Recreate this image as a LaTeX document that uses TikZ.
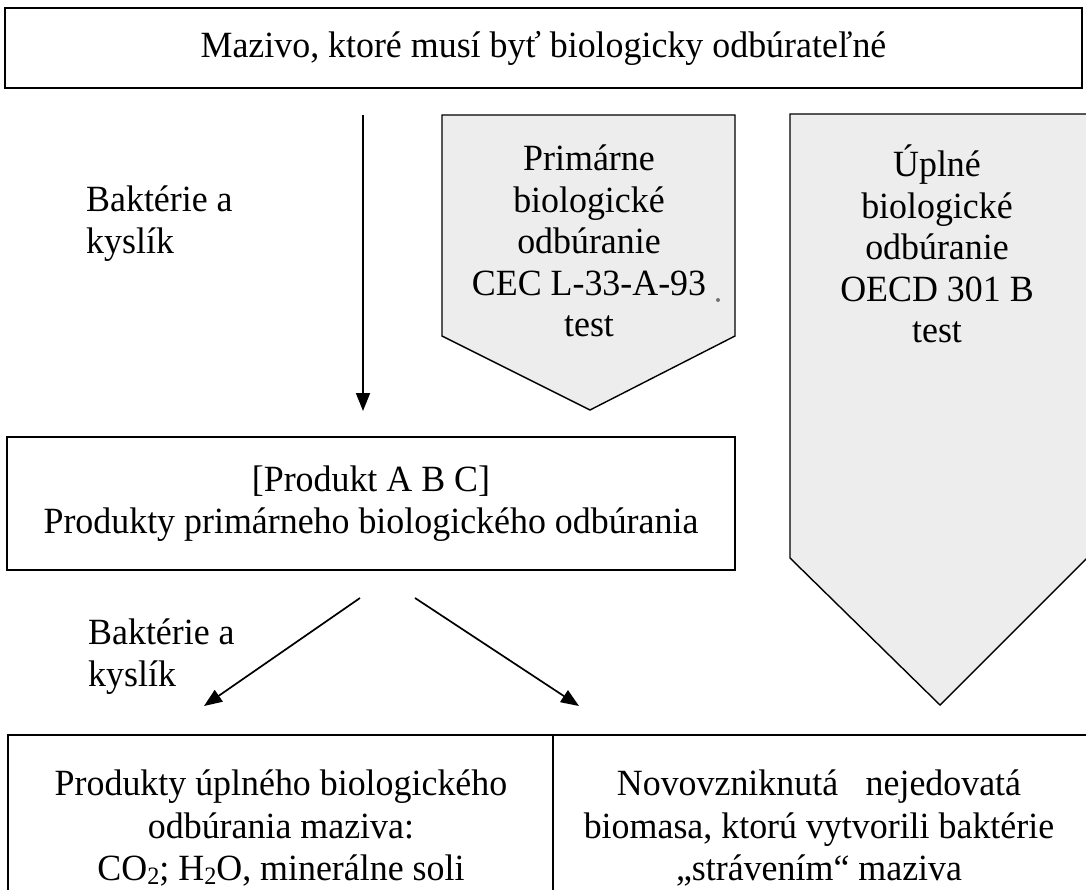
\documentclass[tikz,border=0pt]{standalone}
\usepackage{fontspec}
\setmainfont{Liberation Serif}[FakeStretch=0.97]
\usetikzlibrary{arrows.meta}
\newcommand{\lowtwo}{\raisebox{-0.12em}{\fontsize{25}{25}\selectfont 2}}
\begin{document}
\begin{tikzpicture}[x=1pt,y=-1pt,
  txt/.style={font=\fontsize{37}{41.5}\selectfont, align=center, inner sep=0pt},
  boxline/.style={draw=black, line width=1.8pt},
  penta/.style={draw=black, line width=1.4pt, fill=black!7},
  arr/.style={line width=1.7pt, -{Triangle[length=18pt,width=14pt]}}]
\useasboundingbox (0,0) rectangle (1086,890);
% top box
\node[txt, boxline, minimum width=1077pt, minimum height=80pt] (top) at (543.5,48) {Mazivo, ktoré musí byť biologicky odbúrateľné};
% pentagons
\draw[penta] (442,115) -- (735,115) -- (735,336) -- (590,410) -- (442,336) -- cycle;
\node[txt, anchor=north] (prim) at (589,145) {Primárne\\biologické\\odbúranie\\CEC L-33-A-93\\test};
\fill[black!55] (718,300) circle (2pt);
\draw[penta] (790,114) -- (1087,114) -- (1087,558) -- (940,705) -- (790,558) -- cycle;
\node[txt, anchor=north] (upl) at (937,145) {Úplné\\biologické\\odbúranie\\OECD 301 B\\test};
% left label 1
\node[txt, align=left, anchor=north west] (lab1) at (86,186) {Baktérie a\\kyslík};
% vertical arrow
\coordinate (a1s) at (363,115);
\coordinate (a1e) at (363,411);
\draw[arr] (a1s) -- (a1e);
% middle box
\node[txt, boxline, minimum width=728pt, minimum height=133pt] (mid) at (371,503.5) {[Produkt A B C]\\Produkty primárneho biologického odbúrania};
% diagonal arrows
\coordinate (d1s) at (360,598);
\coordinate (d1e) at (204,706);
\coordinate (d2s) at (415,598);
\coordinate (d2e) at (579,706);
\draw[arr] (d1s) -- (d1e);
\draw[arr] (d2s) -- (d2e);
\node[txt, align=left, anchor=north west] (lab2) at (88,619) {Baktérie a\\kyslík};
% bottom box (open at bottom)
\coordinate (bl) at (8,892);
\coordinate (btl) at (8,735);
\coordinate (btr) at (1088,735);
\coordinate (dvt) at (553,735);
\coordinate (dvb) at (553,892);
\draw[boxline] (bl) -- (btl) -- (btr);
\draw[line width=1.2pt] (dvt) -- (dvb);
\node[txt, font=\fontsize{37}{42.5}\selectfont] (prod) at (281,828) {Produkty úplného biologického\\odbúrania maziva:\\CO\lowtwo; H\lowtwo O, minerálne soli};
\node[txt, font=\fontsize{37}{42.5}\selectfont] (bio) at (819,828) {Novovzniknutá\hspace{0.5em} nejedovatá\\biomasa, ktorú vytvorili baktérie\\„strávením“ maziva};
\end{tikzpicture}
\end{document}
